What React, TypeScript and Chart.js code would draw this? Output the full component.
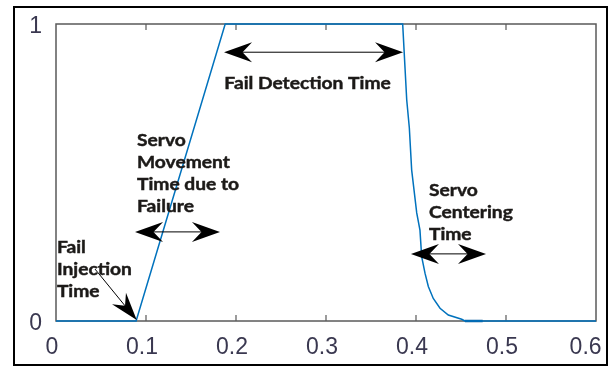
import React, { useEffect, useRef } from "react";
import { Chart, registerables } from "chart.js";

Chart.register(...registerables);

// Servo position response (normalised) against time in seconds
const timeSec = [0, 0.089, 0.188, 0.3852, 0.3878, 0.3897, 0.3926, 0.3952, 0.4008, 0.4044, 0.4063, 0.41, 0.4137, 0.4192, 0.4267, 0.4359, 0.4508, 0.4544, 0.6];
const servoPos = [0, 0, 1, 1, 0.852, 0.744, 0.65, 0.508, 0.364, 0.306, 0.217, 0.161, 0.116, 0.076, 0.043, 0.02, 0.006, 0, 0];

// short settling overlap near the end of centering
const settleTime = [0.4544, 0.4741];
const settlePos = [0, 0];

const xTickValues = [0, 0.1, 0.2, 0.3, 0.4, 0.5, 0.6];
const xTickLabels = ["0", "0.1", "0.2", "0.3", "0.4", "0.5", "0.6  "];
const yTickValues = [0, 1];
const yTickLabels = ["0", "1"];

// text notes, anchored in data coordinates (left edge, first line centre)
const noteLines = [
  ["Fail Detection Time"],
  ["Servo", "Movement", "Time due to", "Failure"],
  ["Fail", "Injection", "Time"],
  ["Servo", "Centering", "Time"],
];
const noteX = [0.187, 0.09, 0.001, 0.4144];
const noteY = [0.8, 0.609, 0.249, 0.438];

// double-headed span arrows: start time, end time, level
const spanFrom = [0.1867, 0.0878, 0.3944];
const spanTo = [0.3856, 0.1822, 0.4778];
const spanLevel = [0.905, 0.3, 0.226];

// single pointer arrow for the injection instant
const pointerStart = [0.0433, 0.175];
const pointerEnd = [0.0897, 0.003];

const LINE_BLUE = "#0072BD";
const TICK_FONT = "'Liberation Sans', Arial, sans-serif";
const TICK_COLOR = "#3a3850";
const NOTE_FONT = "bold 17px Lato, 'Noto Sans', sans-serif";

function arrowHead(ctx: CanvasRenderingContext2D, tx: number, ty: number, ang: number, len: number, half: number) {
  const dx = Math.cos(ang), dy = Math.sin(ang);
  const px = -dy, py = dx;
  const bx = tx - dx * len, by = ty - dy * len;
  const nx = tx - dx * len * 0.66, ny = ty - dy * len * 0.66;
  ctx.beginPath();
  ctx.moveTo(tx, ty);
  ctx.lineTo(bx + px * half, by + py * half);
  ctx.lineTo(nx, ny);
  ctx.lineTo(bx - px * half, by - py * half);
  ctx.closePath();
  ctx.fill();
}

const framePlugin = {
  id: "frameTicks",
  beforeDatasetsDraw(chart: any) {
    const { ctx, chartArea: a, scales } = chart;
    ctx.save();
    ctx.strokeStyle = "#5a5a5a";
    ctx.lineWidth = 1.5;
    ctx.strokeRect(a.left, a.top, a.right - a.left, a.bottom - a.top);
    ctx.lineWidth = 1.2;
    ctx.beginPath();
    for (const v of xTickValues) {
      const x = scales.x.getPixelForValue(v);
      if (x <= a.left + 1 || x >= a.right - 1) continue;
      ctx.moveTo(x, a.bottom);
      ctx.lineTo(x, a.bottom - 6);
      ctx.moveTo(x, a.top);
      ctx.lineTo(x, a.top + 6);
    }
    ctx.stroke();
    ctx.restore();
  },
  afterDatasetsDraw(chart: any) {
    const { ctx, scales } = chart;
    const sx = scales.x, sy = scales.y;
    ctx.save();
    ctx.fillStyle = "#000";
    ctx.strokeStyle = "#000";
    ctx.lineWidth = 1;

    spanFrom.forEach((f, i) => {
      const x0 = sx.getPixelForValue(f);
      const x1 = sx.getPixelForValue(spanTo[i]);
      const y = sy.getPixelForValue(spanLevel[i]);
      ctx.beginPath();
      ctx.moveTo(x0 + 4, y);
      ctx.lineTo(x1 - 4, y);
      ctx.stroke();
      arrowHead(ctx, x0, y, Math.PI, 28, 10);
      arrowHead(ctx, x1, y, 0, 28, 10);
    });

    const ax = sx.getPixelForValue(pointerStart[0]);
    const ay = sy.getPixelForValue(pointerStart[1]);
    const bx = sx.getPixelForValue(pointerEnd[0]);
    const by = sy.getPixelForValue(pointerEnd[1]);
    const ang = Math.atan2(by - ay, bx - ax);
    ctx.beginPath();
    ctx.moveTo(ax, ay);
    ctx.lineTo(bx - Math.cos(ang) * 4, by - Math.sin(ang) * 4);
    ctx.stroke();
    arrowHead(ctx, bx, by, ang, 28, 9);

    ctx.fillStyle = "#1c1a18";
    ctx.strokeStyle = "#1c1a18";
    ctx.lineWidth = 0.45;
    ctx.font = NOTE_FONT;
    ctx.textBaseline = "middle";
    ctx.textAlign = "left";
    noteLines.forEach((lines, i) => {
      const x = sx.getPixelForValue(noteX[i]);
      const y = sy.getPixelForValue(noteY[i]);
      lines.forEach((t, k) => {
        ctx.save();
        ctx.translate(x, y + k * 22);
        ctx.scale(1.13, 1);
        ctx.fillText(t, 0, 0);
        ctx.strokeText(t, 0, 0);
        ctx.restore();
      });
    });
    ctx.restore();
  },
  afterDraw(chart: any) {
    const { ctx } = chart;
    ctx.save();
    ctx.strokeStyle = "#000";
    ctx.lineWidth = 2;
    ctx.strokeRect(14, 7, 593, 358);
    ctx.restore();
  },
};

export default function App() {
  const ref = useRef<HTMLCanvasElement | null>(null);

  useEffect(() => {
    document.body.style.margin = "0";
    document.body.style.background = "#fff";
    if (!ref.current) return;
    const chart = new Chart(ref.current, {
      type: "scatter",
      data: {
        datasets: [
          {
            label: "Servo position",
            data: timeSec.map((t, i) => ({ x: t, y: servoPos[i] })),
            showLine: true,
            borderColor: LINE_BLUE,
            borderWidth: 1.5,
            pointRadius: 0,
            clip: false as any,
          },
          {
            label: "Settling",
            data: settleTime.map((t, i) => ({ x: t, y: settlePos[i] })),
            showLine: true,
            borderColor: "#0a5a9a",
            borderWidth: 2.5,
            pointRadius: 0,
            clip: false as any,
          },
        ],
      },
      options: {
        animation: false,
        responsive: false,
        events: [],
        layout: { padding: { top: 24, right: 13, left: 0, bottom: 0 } },
        plugins: { legend: { display: false }, tooltip: { enabled: false } },
        scales: {
          x: {
            type: "linear",
            min: 0,
            max: 0.6,
            grid: { display: false, drawTicks: false },
            border: { display: false },
            afterBuildTicks: (s: any) => {
              s.ticks = xTickValues.map((v) => ({ value: v }));
            },
            afterFit: (s: any) => {
              s.height = 47;
              s.paddingLeft = 0;
              s.paddingRight = 0;
            },
            ticks: {
              autoSkip: false,
              maxRotation: 0,
              padding: 13,
              labelOffset: -4,
              color: TICK_COLOR,
              font: { family: TICK_FONT, size: 23 },
              callback: (v: any) => xTickLabels[xTickValues.indexOf(Number(v))] ?? "",
            },
          },
          y: {
            type: "linear",
            min: 0,
            max: 1,
            grid: { display: false, drawTicks: false },
            border: { display: false },
            afterBuildTicks: (s: any) => {
              s.ticks = yTickValues.map((v) => ({ value: v }));
            },
            afterFit: (s: any) => {
              s.width = 56;
              s.paddingTop = 0;
              s.paddingBottom = 0;
            },
            ticks: {
              autoSkip: false,
              padding: 14,
              labelOffset: 3,
              color: TICK_COLOR,
              font: { family: TICK_FONT, size: 23 },
              callback: (v: any) => yTickLabels[yTickValues.indexOf(Number(v))] ?? "",
            },
          },
        },
      },
      plugins: [framePlugin],
    });
    return () => chart.destroy();
  }, []);

  return <canvas ref={ref} width={609} height={368} style={{ display: "block" }} />;
}
